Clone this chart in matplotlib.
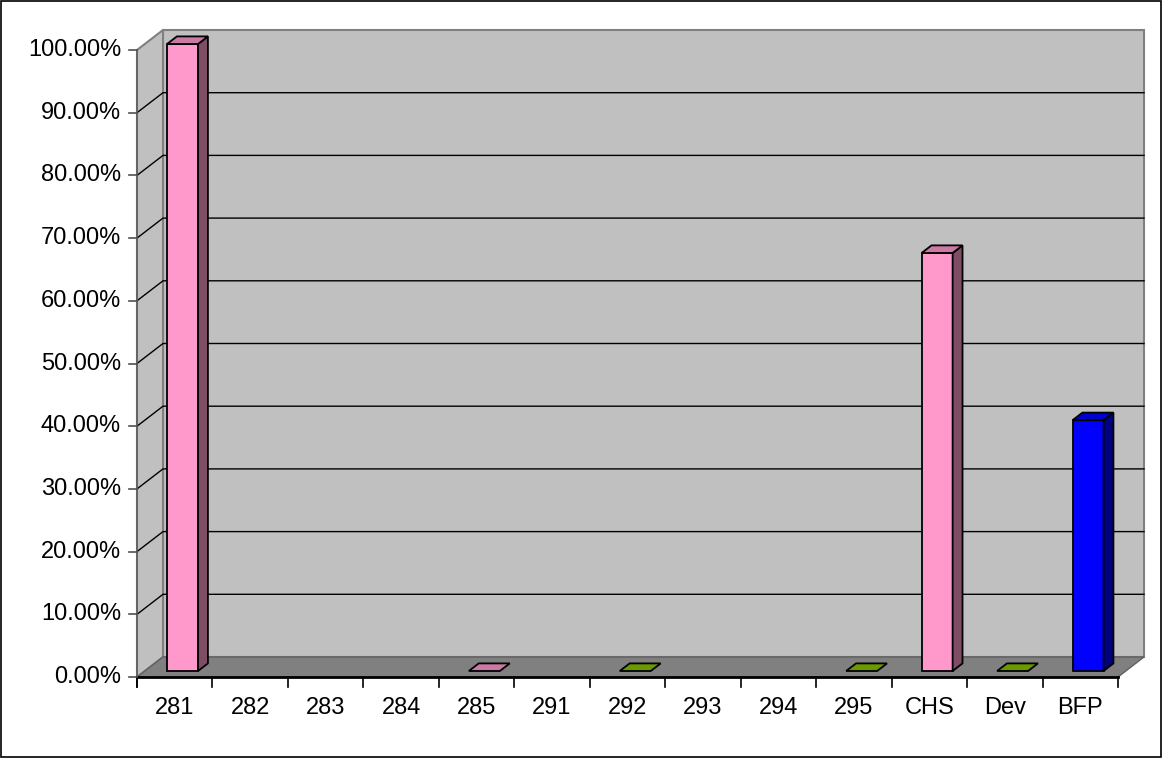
import numpy as np
import matplotlib
matplotlib.use("Agg")
import matplotlib.pyplot as plt
from matplotlib.patches import Polygon, Rectangle

categories = ["281", "282", "283", "284", "285", "291", "292", "293", "294", "295", "CHS", "Dev", "BFP"]
values = [1.0, np.nan, np.nan, np.nan, 0.0, np.nan, 0.0, np.nan, np.nan, 0.0, 0.6667, 0.0, 0.40]
bar_colors = ["pink", None, None, None, "pink", None, "green", None, None, "green", "pink", "green", "blue"]
ytick_values = [i / 10 for i in range(11)]
ytick_labels = [f"{v*100:.2f}%" for v in ytick_values]

palette = {
    "pink": ("#FF99CC", "#804D66", "#CC7AA3"),
    "blue": ("#0000FF", "#000080", "#0000CC"),
    "green": ("#99CC00", "#4D6600", "#6B9900"),
}

W_PX, H_PX = 1163, 758
fig = plt.figure(figsize=(W_PX / 100, H_PX / 100), dpi=100)
ax = fig.add_axes([0, 0, 1, 1])
ax.set_axis_off()

# pixel mapping
X0, XS = 137, 75.46
Y0, YS = 677, 627
ax.set_xlim(-X0 / XS, (W_PX - X0) / XS)
ax.set_ylim(-(H_PX - Y0) / YS, Y0 / YS)

n = len(categories)
DX = 26 / XS
DY = 20 / YS
FS = 17

# walls and floor
back = Polygon([(DX, DY), (n + DX, DY), (n + DX, 1 + DY), (DX, 1 + DY)], closed=True,
               fc="#C0C0C0", ec="#808080", lw=1.5, zorder=1)
left = Polygon([(0, 0), (0, 1), (DX, 1 + DY), (DX, DY)], closed=True,
               fc="#C0C0C0", ec="#808080", lw=1.5, zorder=1)
floor = Polygon([(0, 0), (n, 0), (n + DX, DY), (DX, DY)], closed=True,
                fc="#808080", ec="#606060", lw=1, zorder=1)
for p in (back, left, floor):
    ax.add_patch(p)

# gridlines
for v in ytick_values[1:-1]:
    ax.plot([0, DX, n + DX], [v, v + DY, v + DY], color="black", lw=1, zorder=2)

# axis lines and ticks
ax.plot([0, n], [0, 0], color="black", lw=2, zorder=3)
ax.plot([0, 0], [0, 1], color="#606060", lw=1.2, zorder=3)
ax.plot([0, 0], [0, -10 / YS], color="black", lw=1.2, zorder=3)
for k in range(n + 1):
    ax.plot([k, k], [0, -10 / YS], color="black", lw=1.2, zorder=3)
for v, lab in zip(ytick_values, ytick_labels):
    ax.plot([-8 / XS, 0], [v, v], color="#505050", lw=1.2, zorder=3)
    ax.text(-16 / XS, v, lab, ha="right", va="center", fontsize=FS,
            family="Liberation Sans", color="black")
for i, c in enumerate(categories):
    ax.text(i + 0.5, -31 / YS, c, ha="center", va="center", fontsize=FS,
            family="Liberation Sans", color="black")

# bars
BW = 31 / XS
F0, FT = 0.30, 0.38
for i, (v, col) in enumerate(zip(values, bar_colors)):
    if col is None or np.isnan(v):
        continue
    front, side, top = palette[col]
    x1 = i + 0.5 - BW / 2 + F0 * DX
    x2 = x1 + BW
    y1 = F0 * DY
    ox, oy = FT * DX, FT * DY
    yt = y1 + v
    if v > 0:
        ax.add_patch(Polygon([(x1, y1), (x2, y1), (x2, yt), (x1, yt)], closed=True,
                             fc=front, ec="black", lw=1.3, zorder=4))
        ax.add_patch(Polygon([(x2, y1), (x2 + ox, y1 + oy), (x2 + ox, yt + oy), (x2, yt)], closed=True,
                             fc=side, ec="black", lw=1.3, zorder=4))
    ax.add_patch(Polygon([(x1, yt), (x2, yt), (x2 + ox, yt + oy), (x1 + ox, yt + oy)], closed=True,
                         fc=top, ec="black", lw=1.3, zorder=5))

# outer border
fig.patches.append(Rectangle((1 / W_PX, 1 / H_PX), 1160 / W_PX, 756 / H_PX, transform=fig.transFigure,
                             fill=False, ec="black", lw=1.2))

fig.savefig("out.png", dpi=100)
